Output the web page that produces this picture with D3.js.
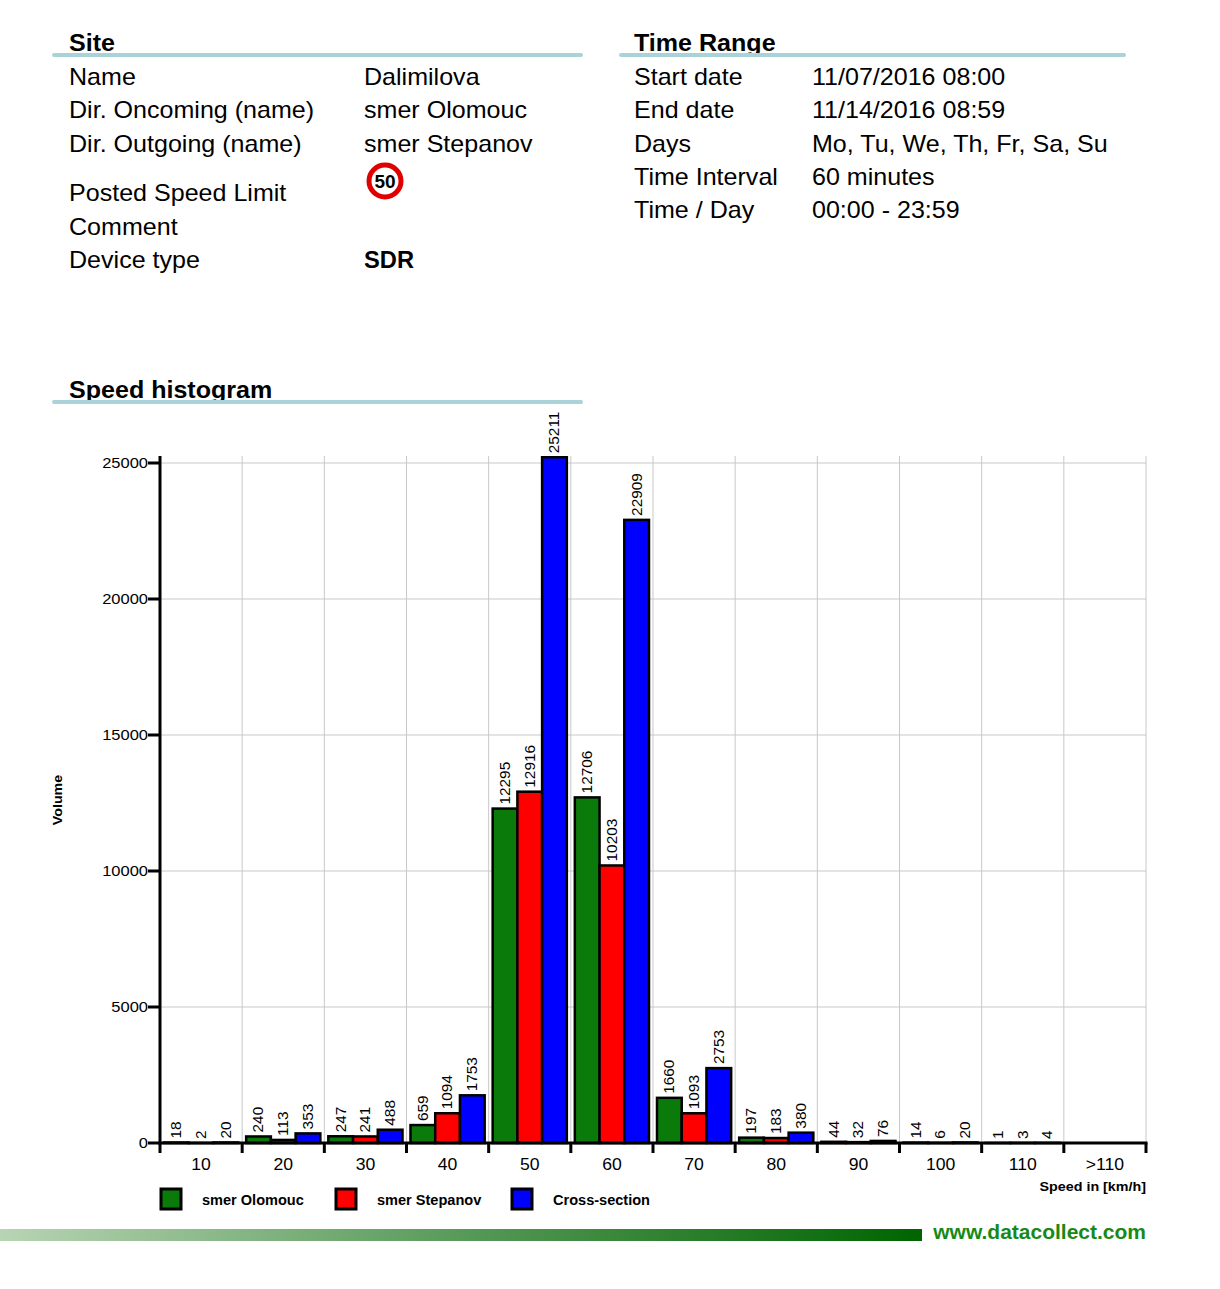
<!DOCTYPE html>
<html>
<head>
<meta charset="utf-8">
<script src="https://cdn.jsdelivr.net/npm/d3@7/dist/d3.min.js"></script>
<style>
  html, body { margin: 0; padding: 0; background: #fff; }
  svg { display: block; font-family: "Liberation Sans", Arial, Helvetica, sans-serif; }
</style>
</head>
<body>
<svg id="chart" width="1220" height="1289"></svg>
<script>
// ---------- data ----------
const categories = ["10", "20", "30", "40", "50", "60", "70", "80", "90", "100", "110", ">110"];
const seriesNames = ["smer Olomouc", "smer Stepanov", "Cross-section"];
const olomouc  = [18, 240, 247, 659, 12295, 12706, 1660, 197, 44, 14, 1, null];
const stepanov = [2, 113, 241, 1094, 12916, 10203, 1093, 183, 32, 6, 3, null];
const cross    = [20, 353, 488, 1753, 25211, 22909, 2753, 380, 76, 20, 4, null];
const yTicks = [0, 5000, 10000, 15000, 20000, 25000];

const siteLabels = ["Name", "Dir. Oncoming (name)", "Dir. Outgoing (name)", "Posted Speed Limit", "Comment", "Device type"];
const siteValues = ["Dalimilova", "smer Olomouc", "smer Stepanov", "", "", "SDR"];
const timeLabels = ["Start date", "End date", "Days", "Time Interval", "Time / Day"];
const timeValues = ["11/07/2016 08:00", "11/14/2016 08:59", "Mo, Tu, We, Th, Fr, Sa, Su", "60 minutes", "00:00 - 23:59"];
const speedLimit = "50";

const colors = ["#0a7a0a", "#ff0000", "#0000ff"];

// ---------- drawing ----------
const svg = d3.select("#chart");
const underline = "#a9d3d8";

// text helper: horizontally stretched glyphs (reference font is wider than Arial)
function txt(parent, str, x, y, opts = {}) {
  const sx = opts.sx || 1.09;
  const rot = opts.rotate ? ` rotate(${opts.rotate})` : "";
  const t = parent.append("text")
    .attr("transform", `translate(${x},${y})${rot} scale(${sx},1)`)
    .attr("font-size", opts.size || 14)
    .attr("font-weight", opts.bold ? "bold" : "normal")
    .attr("fill", opts.fill || "#000")
    .attr("text-anchor", opts.anchor || "start")
    .text(str);
  if (opts.dy) t.attr("dy", opts.dy);
  return t;
}

function sectionTitle(text, x, y, x1, x2) {
  txt(svg, text, x, y, { size: 23, bold: true, sx: 1.09 });
  svg.append("line").attr("x1", x1).attr("x2", x2).attr("y1", y + 4).attr("y2", y + 4)
    .attr("stroke", underline).attr("stroke-width", 4).attr("stroke-linecap", "round");
}

sectionTitle("Site", 69, 51, 54, 581);
sectionTitle("Time Range", 634, 51, 621, 1124);

const siteY = [77, 110, 144, 193, 227, 260];
siteLabels.forEach((l, i) => {
  txt(svg, l, 69, siteY[i] + 8, { size: 23, sx: 1.09 });
  if (siteValues[i]) {
    txt(svg, siteValues[i], 364, siteY[i] + 8, { size: 23, sx: i === 5 ? 1.03 : 1.09, bold: i === 5 });
  }
});
// speed limit sign
svg.append("circle").attr("cx", 385).attr("cy", 181).attr("r", 16).attr("fill", "#fff").attr("stroke", "#e00000").attr("stroke-width", 5);
txt(svg, speedLimit, 385, 188, { size: 19, bold: true, anchor: "middle", sx: 1 });

const timeY = [77, 110, 144, 177, 210];
timeLabels.forEach((l, i) => {
  txt(svg, l, 634, timeY[i] + 8, { size: 23, sx: 1.09 });
  txt(svg, timeValues[i], 812, timeY[i] + 8, { size: 23, sx: 1.09 });
});

sectionTitle("Speed histogram", 69, 398, 54, 581);

// ---------- chart ----------
const x0 = 160, x1 = 1146, yBase = 1143, yTop = 456;
const x = d3.scaleBand().domain(categories).range([x0, x1]).padding(0);
const y = d3.scaleLinear().domain([0, 25000]).range([yBase, 463]);
const inner = d3.scaleBand().domain(seriesNames).range([4, x.bandwidth() - 4]).padding(0);

const grid = svg.append("g");
yTicks.filter(t => t > 0).forEach(t => {
  grid.append("line").attr("x1", x0).attr("x2", x1).attr("y1", y(t)).attr("y2", y(t))
    .attr("stroke", "#c8c8c8").attr("stroke-width", 1);
});
categories.forEach(c => {
  grid.append("line").attr("x1", x(c) + x.bandwidth()).attr("x2", x(c) + x.bandwidth())
    .attr("y1", yTop).attr("y2", yBase).attr("stroke", "#c8c8c8").attr("stroke-width", 1);
});

const allSeries = [olomouc, stepanov, cross];
const bars = svg.append("g");
categories.forEach((c, ci) => {
  allSeries.forEach((s, si) => {
    const v = s[ci];
    if (v === null || v === undefined) return;
    const bx = x(c) + inner(seriesNames[si]);
    const bw = inner.bandwidth();
    bars.append("rect").attr("x", bx).attr("y", y(v)).attr("width", bw).attr("height", Math.max(0, yBase - y(v)))
      .attr("fill", colors[si]).attr("stroke", "#000").attr("stroke-width", 2.5);
    txt(bars, v, bx + bw / 2, y(v) - 4, { size: 14, rotate: -90, dy: "0.35em", sx: 1.1 });
  });
});

// axes
const axes = svg.append("g").attr("stroke", "#000");
axes.append("line").attr("x1", x0).attr("x2", x0).attr("y1", yTop).attr("y2", yBase + 1.5).attr("stroke-width", 3);
axes.append("line").attr("x1", x0 - 1.5).attr("x2", x1 + 1.5).attr("y1", yBase).attr("y2", yBase).attr("stroke-width", 3);
yTicks.forEach(t => {
  axes.append("line").attr("x1", x0 - 12).attr("x2", x0).attr("y1", y(t)).attr("y2", y(t)).attr("stroke-width", 3);
  txt(svg, t, x0 - 12, y(t), { size: 15, anchor: "end", dy: "0.35em", sx: 1.1 });
});
const bounds = [x0].concat(categories.map(c => x(c) + x.bandwidth()));
bounds.forEach(b => {
  axes.append("line").attr("x1", b).attr("x2", b).attr("y1", yBase).attr("y2", yBase + 10).attr("stroke-width", 3);
});
categories.forEach(c => {
  txt(svg, c, x(c) + x.bandwidth() / 2, 1170, { size: 16, anchor: "middle", sx: 1.1 });
});

txt(svg, "Speed in [km/h]", 1146, 1191, { size: 13, bold: true, anchor: "end", sx: 1.1 });
txt(svg, "Volume", 62, 800, { size: 13, bold: true, anchor: "middle", rotate: -90, sx: 1.1 });

// legend
const legendX = [161, 336, 512];
seriesNames.forEach((n, i) => {
  svg.append("rect").attr("x", legendX[i]).attr("y", 1189).attr("width", 20).attr("height", 20)
    .attr("fill", colors[i]).attr("stroke", "#000").attr("stroke-width", 3);
  txt(svg, n, legendX[i] + 41, 1205, { size: 14, bold: true, sx: 1.04 });
});

// footer
const defs = svg.append("defs");
const grad = defs.append("linearGradient").attr("id", "fg").attr("x1", "0%").attr("x2", "100%");
grad.append("stop").attr("offset", "0%").attr("stop-color", "#b8d4b4");
grad.append("stop").attr("offset", "55%").attr("stop-color", "#4e9450");
grad.append("stop").attr("offset", "100%").attr("stop-color", "#006400");
svg.append("rect").attr("x", 0).attr("y", 1229).attr("width", 922).attr("height", 12).attr("fill", "url(#fg)");
txt(svg, "www.datacollect.com", 1146, 1239, { size: 20, bold: true, anchor: "end", fill: "#168a16", sx: 1.05 });
</script>
</body>
</html>
